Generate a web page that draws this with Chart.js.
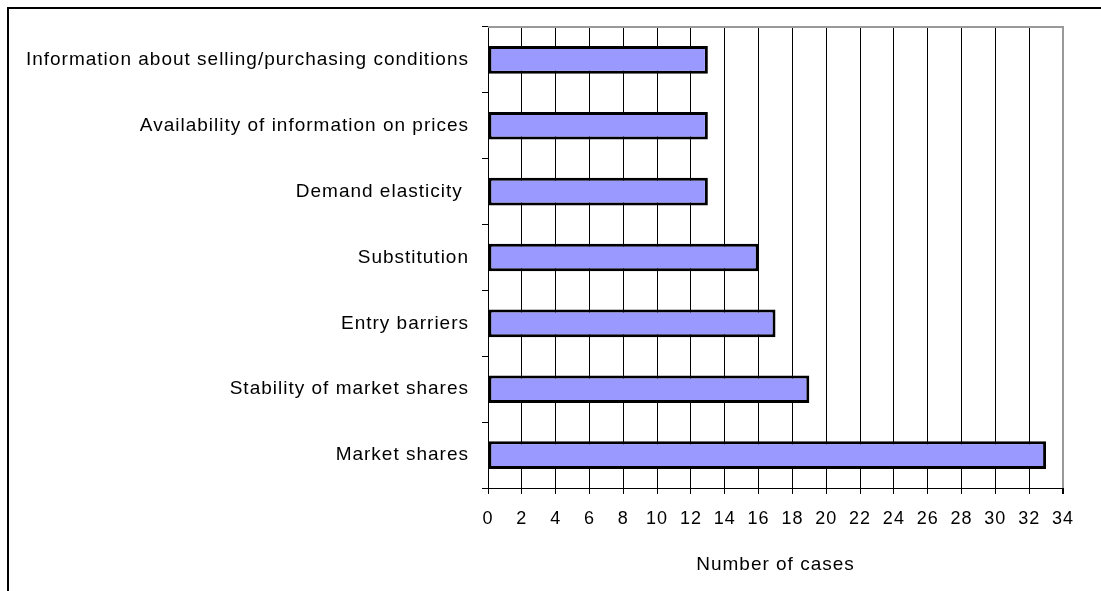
<!DOCTYPE html>
<html><head><meta charset="utf-8">
<script src="https://cdn.jsdelivr.net/npm/chart.js@4"></script>
<style>
html,body{margin:0;padding:0;background:#fff;}
#wrap{position:relative;width:1101px;height:591px;}
#frame{position:absolute;left:7px;top:7px;right:0;bottom:0;border-top:2px solid #000;border-left:2px solid #000;pointer-events:none;}
canvas{position:absolute;left:0;top:0;}
</style></head>
<body><div id="wrap"><canvas id="c" width="1101" height="591"></canvas><div id="frame"></div></div>
<script>
const categories = [
  "Information about selling/purchasing conditions",
  "Availability of information on prices",
  "Demand elasticity ",
  "Substitution",
  "Entry barriers",
  "Stability of market shares",
  "Market shares"
];
const cases = [13, 13, 13, 16, 17, 19, 33];
const xTitle = "Number of cases";
const xMax = 34;
const xStep = 2;

const FONT = "'Liberation Sans', Arial, sans-serif";

const spacing = {
  id: 'spacing',
  beforeUpdate(chart) { chart.ctx.letterSpacing = '1px'; },
  beforeLayout(chart) { chart.ctx.letterSpacing = '1px'; },
  beforeDraw(chart) { chart.ctx.letterSpacing = '1px'; }
};

const topBorder = {
  id: 'topBorder',
  afterDatasetsDraw(chart) {
    const {ctx, chartArea: a} = chart;
    ctx.save();
    ctx.strokeStyle = '#999';
    ctx.lineWidth = 2;
    ctx.beginPath();
    ctx.moveTo(a.left, a.top);
    ctx.lineTo(a.right + 1, a.top);
    ctx.stroke();
    ctx.restore();
  }
};

new Chart(document.getElementById('c'), {
  type: 'bar',
  data: {
    labels: categories,
    datasets: [{
      data: cases,
      backgroundColor: '#9999FF',
      borderColor: '#000',
      borderWidth: 3,
      borderSkipped: false,
      categoryPercentage: 1,
      barPercentage: 0.42
    }]
  },
  options: {
    indexAxis: 'y',
    responsive: false,
    animation: false,
    devicePixelRatio: 1,
    layout: {padding: {left: 8, top: 27, right: 38, bottom: 15}},
    plugins: {legend: {display: false}, tooltip: {enabled: false}},
    scales: {
      x: {
        min: 0, max: xMax,
        ticks: {stepSize: xStep, color: '#000', font: {family: FONT, size: 18}, padding: 14, maxRotation: 0},
        grid: {
          color: (c) => (c.tick && c.tick.value === xMax) ? '#999' : '#000',
          lineWidth: (c) => (c.tick && c.tick.value === xMax) ? 2 : 1,
          tickLength: 6, tickColor: '#000'
        },
        border: {color: '#000', width: 1},
        title: {display: true, text: xTitle, color: '#000', font: {family: FONT, size: 19}, padding: {top: 20, bottom: 0}},
        afterFit(s) { s.height = 88; }
      },
      y: {
        ticks: {color: '#000', font: {family: FONT, size: 19}, padding: 13},
        grid: {offset: true, drawOnChartArea: false, tickLength: 6, color: '#000'},
        border: {color: '#000', width: 1},
        afterFit(s) { s.width = 480; }
      }
    }
  },
  plugins: [spacing, topBorder]
});
</script></body></html>
